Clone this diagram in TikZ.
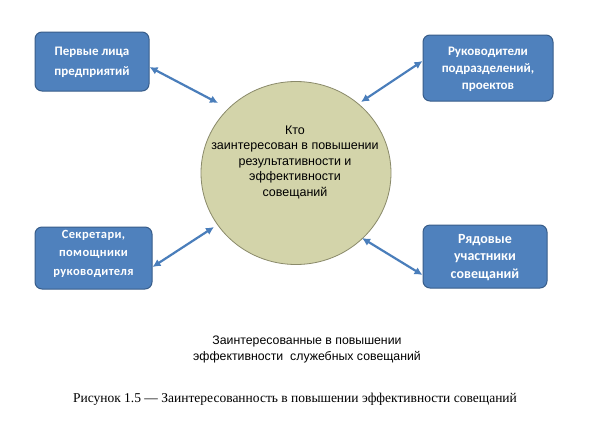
\documentclass[tikz,border=0pt]{standalone}
\usepackage{fontspec}
\setmainfont{Liberation Serif}
\newfontfamily\boxfont{Carlito}
\newfontfamily\boxfontsp[LetterSpace=3]{Carlito}
\newfontfamily\arialfont{Liberation Sans}
\usetikzlibrary{arrows.meta,shapes.geometric}
\definecolor{boxblue}{HTML}{4F81BD}
\definecolor{boxedge}{HTML}{385D8A}
\definecolor{olivefill}{HTML}{D3D4AA}
\definecolor{oliveedge}{HTML}{8A8A6A}
\definecolor{arrowblue}{HTML}{4A7EBB}
\tikzset{
  bluebox/.style={draw=boxedge, line width=1pt, fill=boxblue, rounded corners=7pt,
    text=white, align=center, inner sep=0pt, font=\boxfont\bfseries},
  arr/.style={draw=arrowblue, line width=2.2pt, {Latex[length=8pt,width=8pt]}-{Latex[length=8pt,width=8pt]}},
  plain/.style={align=center, font=\arialfont, inner sep=0pt}
}
\begin{document}
\begin{tikzpicture}[x=1pt,y=-1pt]
\useasboundingbox[fill=white] (0,0) rectangle (591,421);
\node[ellipse, draw=oliveedge, line width=0.8pt, fill=olivefill, minimum width=190pt, minimum height=183pt] (c) at (296,173) {};
\node[plain, font=\arialfont\fontsize{12.5}{15.5}\selectfont] (ct) at (295,162) {Кто\\заинтересован в повышении\\результативности и\\эффективности\\совещаний};
\node[bluebox, minimum width=114pt, minimum height=59pt] (b1) at (92,61.5) {};
\node[align=center, inner sep=0pt, text=white, font=\boxfont\bfseries\fontsize{13}{20}\selectfont] (t1) at (92,62) {Первые лица\\предприятий};
\node[bluebox, minimum width=130pt, minimum height=66pt] (b2) at (488,68) {};
\node[align=center, inner sep=0pt, text=white, font=\boxfont\bfseries\fontsize{13}{17}\selectfont] (t2) at (488,69) {Руководители\\подразделений,\\проектов};
\node[bluebox, minimum width=117pt, minimum height=62pt] (b3) at (93.5,258) {};
\node[align=center, inner sep=0pt, text=white, font=\boxfontsp\bfseries\fontsize{12.5}{18.5}\selectfont] (t3) at (93.5,253.5) {Секретари,\\помощники\\руководителя};
\node[bluebox, minimum width=124pt, minimum height=63pt] (b4) at (485,256.5) {};
\node[align=center, inner sep=0pt, text=white, font=\boxfont\bfseries\fontsize{14}{17.5}\selectfont] (t4) at (485,257.5) {Рядовые\\участники\\совещаний};
\coordinate (e1) at (218,103);
\coordinate (e2) at (361,102);
\coordinate (e3) at (214,227);
\coordinate (e4) at (362,238);
\draw[arr] ([yshift=-5.5pt]b1.east) -- (e1);
\draw[arr] ([yshift=7pt]b2.west) -- (e2);
\draw[arr] ([yshift=-9pt]b3.east) -- (e3);
\draw[arr] ([yshift=-18.5pt]b4.west) -- (e4);
\node[plain, font=\arialfont\fontsize{12.3}{16}\selectfont] (sub) at (307,349) {Заинтересованные в повышении\\эффективности\ \ служебных совещаний};
\node[inner sep=0pt, font=\fontsize{13.5}{16}\selectfont] (cap) at (295,399) {Рисунок 1.5 — Заинтересованность в повышении эффективности совещаний};
\end{tikzpicture}
\end{document}
